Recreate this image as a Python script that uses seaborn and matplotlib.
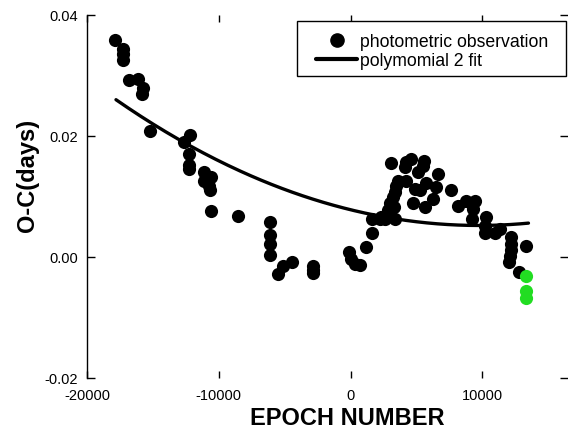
import numpy as np
import pandas as pd
import matplotlib
matplotlib.use("Agg")
import matplotlib.pyplot as plt
from matplotlib.lines import Line2D
from matplotlib.patches import Rectangle
import seaborn as sns

# O-C residuals of the eclipse timings (days) against epoch number
epoch = [
    -17850, -17300, -17250, -17300, -16830, -16100, -15750, -15850, -15250,
    -12650, -12150, -12250, -12250, -12250, -11100, -10600, -11100, -10750,
    -10700, -10580, -8550, -6150, -6150, -6150, -6100, -5520, -5150, -4430,
    -2880, -2880, -2880, -130, 50, 300, 680, 1140, 1650, 1650, 2200, 2330,
    2600, 2830, 2960, 3000, 3200, 3300, 3340, 3340, 3450, 3590, 3090, 4100,
    4230, 4230, 4600, 4740, 4860, 5110, 5240, 5500, 5570, 5620, 5750, 6250,
    6510, 6630, 7640, 8150, 8730, 9240, 9290, 9410, 10170, 10170, 10300,
    10930, 11310, 12050, 12100, 12200, 12200, 12200, 12780, 13290,
]
oc = [
    0.0359, 0.0343, 0.0335, 0.0326, 0.0293, 0.0294, 0.0280, 0.0270, 0.0209,
    0.0190, 0.0202, 0.0170, 0.0152, 0.0145, 0.0140, 0.0133, 0.0125, 0.0118,
    0.0111, 0.0076, 0.0068, 0.0058, 0.0037, 0.0022, 0.0003, -0.0028, -0.0015,
    -0.0008, -0.0015, -0.0022, -0.0027, 0.0008, -0.0004, -0.0012, -0.0014,
    0.0017, 0.0040, 0.0062, 0.0063, 0.0066, 0.0062, 0.0077, 0.0090, 0.0070,
    0.0100, 0.0082, 0.0107, 0.0063, 0.0118, 0.0126, 0.0155, 0.0148, 0.0157,
    0.0126, 0.0162, 0.0090, 0.0112, 0.0140, 0.0110, 0.0150, 0.0158, 0.0082,
    0.0123, 0.0096, 0.0115, 0.0137, 0.0110, 0.0085, 0.0093, 0.0063, 0.0079,
    0.0093, 0.0052, 0.0040, 0.0066, 0.0040, 0.0046, -0.0008, 0.0002, 0.0033,
    0.0022, 0.0012, -0.0025, 0.0018,
]

# newest timings, highlighted in green
epoch_new = [13350, 13350, 13350]
oc_new = [-0.0031, -0.0057, -0.0068]

# second-order polynomial ephemeris: c2*E^2 + c1*E + c0
fit_coeffs = [2.741e-11, -5.339e-7, 0.007812]
fit_range = [-17800, 13500]

x_ticks = [-20000, -10000, 0, 10000]
x_tick_labels = ["-20000", "-10000", "0", "10000"]
y_ticks = [-0.02, 0.0, 0.02, 0.04]
y_tick_labels = ["-0.02", "0.00", "0.02", "0.04"]

sns.set_theme(style="white")
plt.rcParams["font.family"] = ["Liberation Sans", "DejaVu Sans"]
plt.rcParams["axes.unicode_minus"] = False
plt.rcParams["text.color"] = "black"
plt.rcParams["axes.labelcolor"] = "black"

obs = pd.DataFrame({"epoch": epoch, "oc": oc})
new = pd.DataFrame({"epoch": epoch_new, "oc": oc_new})
fit_x = np.linspace(fit_range[0], fit_range[1], 200)
fit = pd.DataFrame({"epoch": fit_x, "oc": np.polyval(fit_coeffs, fit_x)})

fig = plt.figure(figsize=(5.68, 4.31), dpi=100)
ax = fig.add_axes([87 / 568, 1 - 379 / 431, 481 / 568, 363 / 431])

sns.scatterplot(data=obs, x="epoch", y="oc", ax=ax, color="black",
                s=90, linewidth=0, zorder=3, legend=False)
sns.scatterplot(data=new, x="epoch", y="oc", ax=ax, color="#22dd22",
                s=90, linewidth=0, zorder=4, legend=False)
sns.lineplot(data=fit, x="epoch", y="oc", ax=ax, color="black",
             linewidth=2.4, zorder=2, legend=False)

ax.set_xlim(-20000, 16500)
ax.set_ylim(-0.02, 0.04)
ax.set_xticks(x_ticks)
ax.set_xticklabels(x_tick_labels)
ax.set_yticks(y_ticks)
ax.set_yticklabels(y_tick_labels)

for side in ["top", "right", "bottom"]:
    ax.spines[side].set_visible(False)
ax.spines["left"].set_color("black")
ax.spines["left"].set_linewidth(1.0)

ax.tick_params(axis="x", which="major", direction="in", length=5, width=1,
               color="black", labelsize=10.5, pad=7, top=True, bottom=True,
               labelcolor="black")
ax.tick_params(axis="y", which="major", direction="in", length=6, width=1,
               color="black", labelsize=10.5, pad=6.5, left=True, right=True,
               labelcolor="black")

ax.set_xlabel("EPOCH NUMBER", fontsize=17, fontweight="bold", va="top",
              color="black")
ax.xaxis.set_label_coords(0.5405, -0.077)
ax.set_ylabel("O-C(days)", fontsize=17, fontweight="bold", color="black")
ax.yaxis.set_label_coords(-0.1, 0.562)

# legend box: square-cornered frame with wide side margins
ax.add_patch(Rectangle((0.4366, 0.832), 0.5593, 0.1515, transform=ax.transAxes,
                       facecolor="white", edgecolor="black", linewidth=1.0,
                       zorder=5, clip_on=False))
handles = [
    Line2D([], [], linestyle="none", marker="o", markersize=9.5,
           markerfacecolor="black", markeredgecolor="black"),
    Line2D([], [], color="black", linewidth=3),
]
leg = ax.legend(handles, ["photometric observation", "polymomial 2 fit"],
                loc="center left", bbox_to_anchor=(0.476, 0.9008),
                fontsize=12.7, frameon=False,
                handlelength=2.33, handletextpad=0.17, labelspacing=0.15,
                borderpad=0.0, borderaxespad=0.0)
leg.set_zorder(6)

fig.savefig("out.png", dpi=100)
